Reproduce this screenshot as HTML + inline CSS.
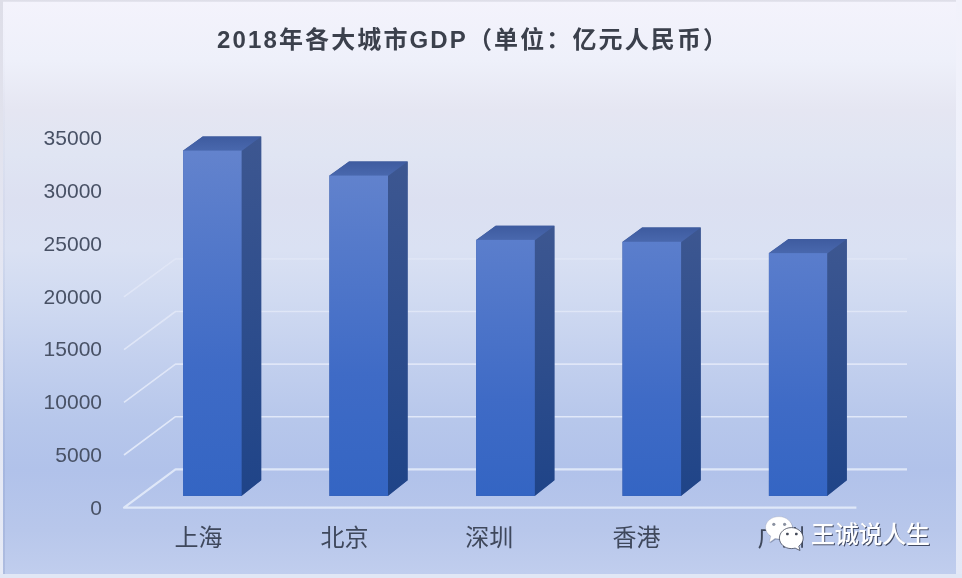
<!DOCTYPE html>
<html lang="zh-CN">
<head>
<meta charset="utf-8">
<title>2018年各大城市GDP（单位：亿元人民币）</title>
<style>
html,body{margin:0;padding:0;background:#fff;}
body{width:962px;height:578px;overflow:hidden;font-family:"Liberation Sans",sans-serif;}
#chart{position:relative;width:962px;height:578px;overflow:hidden;
 background:linear-gradient(180deg,#f4f3fc 0px,#eef0fa 60px,#e5e6f2 110px,#e0e5f3 155px,#dce0f1 200px,#dae1f3 250px,#d0daf1 300px,#c3d0ee 360px,#b7c7eb 420px,#b1c2ea 470px,#b8c7eb 530px,#c1ceee 578px);}
.edge{position:absolute;}
#eT{left:0;top:0;width:962px;height:2px;background:linear-gradient(180deg,#dcdce6,#e6e6f0);}
#eL{left:0;top:0;width:2.5px;height:578px;background:linear-gradient(180deg,#dedee8 0,#e4e6f2 40%,#e6eaf6 100%);}
#eL2{left:2.5px;top:2px;width:2.2px;height:578px;background:linear-gradient(180deg,rgba(120,135,175,0) 0,rgba(120,135,175,.05) 30%,rgba(110,128,175,.22) 100%);}
#eR{right:0;top:0;width:6px;height:578px;background:linear-gradient(180deg,#f2f2fb 0,#eceffa 40%,#e3e8f7 100%);}
#eB{left:0;bottom:0;width:962px;height:3.6px;background:#e1e7f5;}
svg{position:absolute;left:0;top:0;filter:blur(.55px);}
.g{fill:none;stroke:url(#gl);stroke-width:1.6;stroke-linejoin:round;}
.g0{fill:none;stroke:#eaf0fb;stroke-opacity:.8;stroke-width:2.2;stroke-linejoin:round;}
.yl{position:absolute;left:20px;width:82px;height:24px;line-height:24px;text-align:right;font-size:21px;color:transparent;}
</style>
</head>
<body>
<div id="chart">
<svg width="962" height="578" viewBox="0 0 962 578" role="img" aria-label="2018年各大城市GDP 柱状图">
<defs>
<linearGradient id="gl" x1="0" y1="240" x2="0" y2="470" gradientUnits="userSpaceOnUse">
<stop offset="0" stop-color="#e8ecf9" stop-opacity="0"/><stop offset=".096" stop-color="#e8ecf9" stop-opacity=".52"/><stop offset=".31" stop-color="#e8ecf9" stop-opacity=".68"/><stop offset=".77" stop-color="#eaeffb" stop-opacity=".82"/><stop offset="1" stop-color="#eaeffb" stop-opacity=".82"/>
</linearGradient>
<linearGradient id="side" x1="0" y1="0" x2="0" y2="1">
<stop offset="0" stop-color="#3d5791"/><stop offset="1" stop-color="#1f4488"/>
</linearGradient>
<linearGradient id="top0" x1="0" y1="0" x2="0" y2="1"><stop offset="0" stop-color="#3e5b9f"/><stop offset="1" stop-color="#4968ae"/></linearGradient>
<linearGradient id="fr0" x1="0" y1="0" x2="0" y2="1"><stop offset="0" stop-color="#6383cd"/><stop offset=".62" stop-color="#3f6bc6"/><stop offset="1" stop-color="#3465c3"/></linearGradient>
<linearGradient id="top1" x1="0" y1="0" x2="0" y2="1"><stop offset="0" stop-color="#3e5b9f"/><stop offset="1" stop-color="#4968ae"/></linearGradient>
<linearGradient id="fr1" x1="0" y1="0" x2="0" y2="1"><stop offset="0" stop-color="#6182cd"/><stop offset=".62" stop-color="#3f6bc6"/><stop offset="1" stop-color="#3465c3"/></linearGradient>
<linearGradient id="top2" x1="0" y1="0" x2="0" y2="1"><stop offset="0" stop-color="#3e5b9f"/><stop offset="1" stop-color="#4968ae"/></linearGradient>
<linearGradient id="fr2" x1="0" y1="0" x2="0" y2="1"><stop offset="0" stop-color="#5b7ecc"/><stop offset=".62" stop-color="#3f6bc6"/><stop offset="1" stop-color="#3465c3"/></linearGradient>
<linearGradient id="top3" x1="0" y1="0" x2="0" y2="1"><stop offset="0" stop-color="#3e5b9f"/><stop offset="1" stop-color="#4968ae"/></linearGradient>
<linearGradient id="fr3" x1="0" y1="0" x2="0" y2="1"><stop offset="0" stop-color="#5b7ecc"/><stop offset=".62" stop-color="#3f6bc6"/><stop offset="1" stop-color="#3465c3"/></linearGradient>
<linearGradient id="top4" x1="0" y1="0" x2="0" y2="1"><stop offset="0" stop-color="#3e5b9f"/><stop offset="1" stop-color="#4968ae"/></linearGradient>
<linearGradient id="fr4" x1="0" y1="0" x2="0" y2="1"><stop offset="0" stop-color="#5a7dcc"/><stop offset=".62" stop-color="#3f6bc6"/><stop offset="1" stop-color="#3465c3"/></linearGradient>
</defs>
<g id="grid">
<path d="M856.4 507.7H124.0L175.5 469.3H907.0" class="g0"/>
<path d="M124.0 455L175.5 416.7H907.0" class="g"/>
<path d="M124.0 402.3L175.5 364.1H907.0" class="g"/>
<path d="M124.0 349.6L175.5 311.5H907.0" class="g"/>
<path d="M124.0 296.9L175.5 258.9H907.0" class="g"/>
<path d="M124.0 244.2L175.5 206.3H907.0" class="g"/>
<path d="M124.0 191.5L175.5 153.7H907.0" class="g"/>
<path d="M124.0 138.8L175.5 101.1H907.0" class="g"/>
</g>
<g id="bars">
<path d="M183.1 150.6L202.7 136.4H261.2V480.3L241.6 495.9H183.1Z" fill="#3e5a9a"/>
<path d="M241.2 150.6L261.2 136.4V480.3L241.2 495.9Z" fill="url(#side)"/>
<path d="M183.1 151L202.7 136.4H261.2L241.6 151Z" fill="url(#top0)"/>
<rect x="183.1" y="150.6" width="58.5" height="345.3" fill="url(#fr0)"/>
<path d="M329.4 175.6L349 161.4H407.6V480.3L388 495.9H329.4Z" fill="#3e5a9a"/>
<path d="M387.6 175.6L407.6 161.4V480.3L387.6 495.9Z" fill="url(#side)"/>
<path d="M329.4 176L349 161.4H407.6L388 176Z" fill="url(#top1)"/>
<rect x="329.4" y="175.6" width="58.6" height="320.3" fill="url(#fr1)"/>
<path d="M476.1 239.9L495.7 225.7H554.4V480.3L534.8 495.9H476.1Z" fill="#3e5a9a"/>
<path d="M534.4 239.9L554.4 225.7V480.3L534.4 495.9Z" fill="url(#side)"/>
<path d="M476.1 240.3L495.7 225.7H554.4L534.8 240.3Z" fill="url(#top2)"/>
<rect x="476.1" y="239.9" width="58.7" height="256" fill="url(#fr2)"/>
<path d="M622.5 241.8L642.1 227.6H700.7V480.3L681.1 495.9H622.5Z" fill="#3e5a9a"/>
<path d="M680.7 241.8L700.7 227.6V480.3L680.7 495.9Z" fill="url(#side)"/>
<path d="M622.5 242.2L642.1 227.6H700.7L681.1 242.2Z" fill="url(#top3)"/>
<rect x="622.5" y="241.8" width="58.6" height="254.1" fill="url(#fr3)"/>
<path d="M768.9 253.1L788.5 238.9H846.8V480.3L827.2 495.9H768.9Z" fill="#3e5a9a"/>
<path d="M826.8 253.1L846.8 238.9V480.3L826.8 495.9Z" fill="url(#side)"/>
<path d="M768.9 253.5L788.5 238.9H846.8L827.2 253.5Z" fill="url(#top4)"/>
<rect x="768.9" y="253.1" width="58.3" height="242.8" fill="url(#fr4)"/>
</g>
<g id="ynum" fill="#485165" font-family="&quot;Liberation Sans&quot;, sans-serif" font-size="21" text-anchor="end">
<text x="102" y="514.7">0</text>
<text x="102" y="461.95">5000</text>
<text x="102" y="409.2">10000</text>
<text x="102" y="356.45">15000</text>
<text x="102" y="303.7">20000</text>
<text x="102" y="250.95">25000</text>
<text x="102" y="198.2">30000</text>
<text x="102" y="145.45">35000</text>
</g>
</svg>
<div id="ylabels">
<div class="yl" style="top:496px">0</div>
<div class="yl" style="top:443.25px">5000</div>
<div class="yl" style="top:390.5px">10000</div>
<div class="yl" style="top:337.75px">15000</div>
<div class="yl" style="top:285px">20000</div>
<div class="yl" style="top:232.25px">25000</div>
<div class="yl" style="top:179.5px">30000</div>
<div class="yl" style="top:126.75px">35000</div>
</div>
<svg width="962" height="578" viewBox="0 0 962 578" role="img" aria-label="2018年各大城市GDP（单位：亿元人民币）">
<title>2018年各大城市GDP（单位：亿元人民币） 上海 北京 深圳 香港 广州 王诚说人生</title>
<g id="title" fill="#3b404c">
<text x="217" y="47.9" font-family="&quot;Liberation Sans&quot;, &quot;Noto Sans CJK SC&quot;, sans-serif" font-size="24" font-weight="bold" textLength="510" lengthAdjust="spacing">2018年各大城市GDP（单位：亿元人民币）</text>
</g>
<g id="xlabels" fill="#3f485c" font-family="&quot;Liberation Sans&quot;, &quot;Noto Sans CJK SC&quot;, sans-serif" font-size="24" text-anchor="middle">
<text x="198.5" y="546">上海</text>
<text x="344.4" y="546">北京</text>
<text x="489.3" y="546">深圳</text>
<text x="636.5" y="546">香港</text>
<text x="781.4" y="546">广州</text>
</g>

<g id="wechat">
<path d="M779 516.6c-7.5 0-13.5 4.9-13.500 10.900c0 3.500 2 6.600 5.200 8.600l-1.300 6.300l5.600-3.900c1.300 .3 2.600 .5 4 .5c7.500 0 13.500-4.900 13.500-10.900s-6-11.500-13.500-11.500z" fill="#2f3850" fill-opacity=".35" transform="translate(.8,.9)"/>
<path d="M779 516.600c-7.500 0-13.500 4.900-13.500 10.900c0 3.500 2 6.600 5.200 8.600l-1.300 6.300l5.600-3.900c1.300 .3 2.600 .5 4 .5c7.500 0 13.500-4.900 13.500-10.900s-6-11.500-13.500-11.500z" fill="#fff" stroke="#8c95ad" stroke-opacity=".55" stroke-width=".6"/>
<circle cx="773.8" cy="524.3" r="1.6" fill="#8a91a1"/><circle cx="784.6" cy="524.3" r="1.6" fill="#8a91a1"/>
<path d="M791.3 527.600c-6.600 0-11.900 4.700-11.900 10.500s5.300 10.500 11.900 10.500c1.300 0 2.600-.2 3.800-.5l4.900 2.400l-1.200-4.400c2.700-1.900 4.400-4.800 4.400-8c0-5.800-5.300-10.500-11.900-10.500z" fill="#fff" stroke="#3c4254" stroke-opacity=".85" stroke-width=".9"/>
<rect x="786.1" y="532.7" width="2.6" height="2.6" rx=".7" fill="#444a58"/><rect x="795" y="532.7" width="2.6" height="2.6" rx=".7" fill="#444a58"/>
</g>
<g id="wm" font-family="&quot;Liberation Sans&quot;, &quot;Noto Sans CJK SC&quot;, sans-serif" font-size="24" font-weight="500">
<text x="811" y="543" textLength="119" lengthAdjust="spacing" fill="#353d55" fill-opacity=".9" transform="translate(1.1,1.1)">王诚说人生</text>
<text x="811" y="543" textLength="119" lengthAdjust="spacing" fill="#fff">王诚说人生</text>
</g>
</svg>
<div class="edge" id="eT"></div><div class="edge" id="eL"></div><div class="edge" id="eL2"></div><div class="edge" id="eR"></div><div class="edge" id="eB"></div>
</div>
</body>
</html>
